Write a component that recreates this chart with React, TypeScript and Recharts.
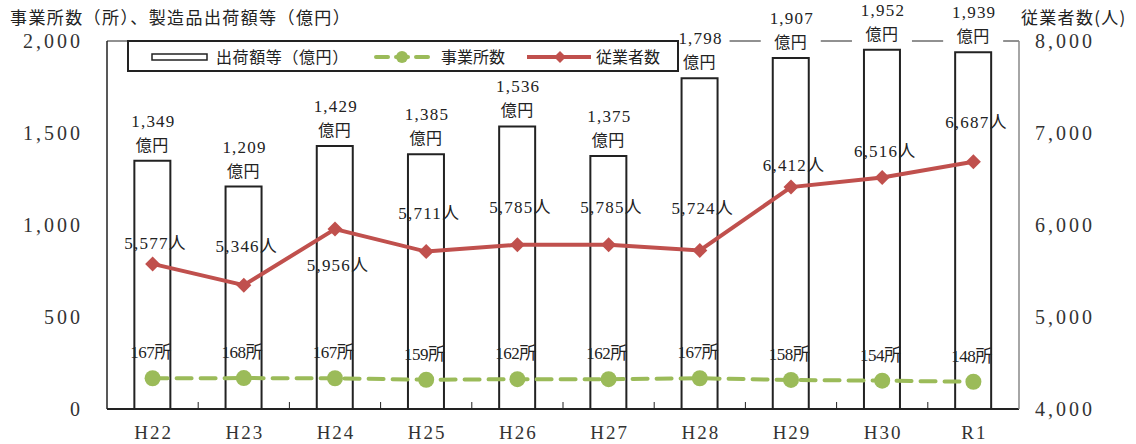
import React from 'react';
import { ComposedChart, Bar, Line, XAxis, YAxis, CartesianGrid, Legend, LabelList } from 'recharts';

const years = ['H22', 'H23', 'H24', 'H25', 'H26', 'H27', 'H28', 'H29', 'H30', 'R1'];
const shipments = [1349, 1209, 1429, 1385, 1536, 1375, 1798, 1907, 1952, 1939];
const employees = [5577, 5346, 5956, 5711, 5785, 5785, 5724, 6412, 6516, 6687];
const establishments = [167, 168, 167, 159, 162, 162, 167, 158, 154, 148];
const leftTicks = [0, 500, 1000, 1500, 2000];
const rightTicks = [4000, 5000, 6000, 7000, 8000];

// vertical shift of each employee label relative to its point
const empLabelShift = [-21, -39, 36, -39, -38, -38, -42, -22, -27, -40];

const data = years.map((year, i) => ({
  year,
  shipments: shipments[i],
  employees: employees[i],
  establishments: establishments[i],
}));

const RED = '#C0504D';
const GREEN = '#9BBB59';
const INK = '#222';
const SERIF = '"Liberation Serif", "DejaVu Serif", "Noto Sans CJK JP", serif';
const JP = '"Noto Sans CJK JP", sans-serif';

const fmt = (n: number) => n.toLocaleString('en-US');

function XTick(props: any) {
  const { x, y, payload, index } = props;
  const off = payload.offset || 0;
  return (
    <g>
      {index > 0 && <line x1={x - off} x2={x - off} y1={y} y2={y - 7} stroke={INK} strokeWidth={1} />}
      <text x={x + 1} y={y + 30} textAnchor="middle" fontFamily={SERIF} fontSize={19} fill="#333" letterSpacing={2}>
        {payload.value}
      </text>
    </g>
  );
}

function BarLabel(props: any) {
  const { x, y, width, value } = props;
  const cx = x + width / 2;
  return (
    <g>
      <rect x={cx - 30} y={y - 53} width={60} height={47} fill="#fff" />
      <text x={cx + 1} y={y - 34} textAnchor="middle" fontFamily={SERIF} fontSize={17} fill="#222" letterSpacing={1.2}>
        {fmt(value)}
      </text>
      <text x={cx} y={y - 10} textAnchor="middle" fontFamily={JP} fontSize={16} fill="#222" letterSpacing={0.5}>
        億円
      </text>
    </g>
  );
}

function EmpLabel(props: any) {
  const { x, y, value, index } = props;
  return (
    <text x={x + 3} y={y + empLabelShift[index] + 6} textAnchor="middle" fontFamily={SERIF} fontSize={17} fill="#222" letterSpacing={1.2}>
      {fmt(value) + '人'}
    </text>
  );
}

function EstLabel(props: any) {
  const { x, y, value } = props;
  return (
    <text x={x - 2} y={y - 20} textAnchor="middle" fontFamily={SERIF} fontSize={17} fill="#222" letterSpacing={-0.5}>
      {value + '所'}
    </text>
  );
}

function Diamond(props: any) {
  const { cx, cy } = props;
  if (cx == null || cy == null) return null;
  const s = 7.5;
  return <path d={`M${cx},${cy - s}L${cx + s},${cy}L${cx},${cy + s}L${cx - s},${cy}Z`} fill={RED} />;
}

function LegendBox() {
  return (
    <svg width={552} height={32} style={{ display: 'block' }}>
      <rect x={1} y={1} width={550} height={30} fill="#fff" stroke={INK} strokeWidth={2} />
      <rect x={25} y={14} width={55} height={6} fill="#fff" stroke={INK} strokeWidth={1.5} />
      <text x={89} y={23} fontFamily={JP} fontSize={16} fill="#222" letterSpacing={0.6}>出荷額等（億円）</text>
      <line x1={249} x2={305} y1={17} y2={17} stroke={GREEN} strokeWidth={4} strokeDasharray="12 8" strokeLinecap="round" />
      <circle cx={275} cy={17} r={6} fill={GREEN} />
      <text x={314} y={23} fontFamily={JP} fontSize={16} fill="#222">事業所数</text>
      <line x1={400} x2={464} y1={17} y2={17} stroke={RED} strokeWidth={4} />
      <path d="M433,11L439,17L433,23L427,17Z" fill={RED} />
      <text x={469} y={23} fontFamily={JP} fontSize={16} fill="#222">従業者数</text>
    </svg>
  );
}

export default function App() {
  return (
    <div style={{ position: 'absolute', left: 0, top: 0, width: 1136, height: 444, background: '#fff' }}>
      <div style={{ position: 'absolute', left: 10, top: 4, fontFamily: JP, fontSize: 17, color: '#222', whiteSpace: 'nowrap', letterSpacing: 1.4 }}>
        事業所数（所）、製造品出荷額等（億円）
      </div>
      <div style={{ position: 'absolute', left: 1021, top: 4, fontFamily: JP, fontSize: 17, color: '#222', whiteSpace: 'nowrap', letterSpacing: 1.3 }}>
        従業者数(人)
      </div>
      <ComposedChart
        width={1136}
        height={444}
        data={data}
        margin={{ top: 41, right: 0, bottom: 0, left: 0 }}
        barCategoryGap="30%"
      >
        <CartesianGrid vertical={false} stroke="#222" strokeWidth={1} />
        <XAxis
          dataKey="year"
          height={35}
          tickSize={0}
          tickMargin={0}
          tick={<XTick />}
          axisLine={{ stroke: INK, strokeWidth: 2 }}
          tickLine={false}
          interval={0}
        />
        <YAxis
          yAxisId="left"
          width={107}
          domain={[0, 2000]}
          ticks={leftTicks}
          tickFormatter={fmt}
          tick={{ fontFamily: SERIF, fontSize: 20, fill: '#333', letterSpacing: 3 }}
          tickMargin={18}
          tickLine={false}
          axisLine={{ stroke: INK, strokeWidth: 1.5 }}
          interval={0}
        />
        <YAxis
          yAxisId="right"
          orientation="right"
          width={117}
          domain={[4000, 8000]}
          ticks={rightTicks}
          tickFormatter={fmt}
          tick={{ fontFamily: SERIF, fontSize: 20, fill: '#333', letterSpacing: 3 }}
          tickMargin={10}
          tickLine={false}
          axisLine={{ stroke: '#888', strokeWidth: 1.5 }}
          interval={0}
        />
        <Legend
          layout="horizontal"
          verticalAlign="middle"
          align="center"
          content={<LegendBox />}
          wrapperStyle={{ position: 'absolute', left: 127, top: 40, width: 552, height: 32 }}
        />
        <Bar yAxisId="left" dataKey="shipments" fill="#fff" stroke={INK} strokeWidth={2} isAnimationActive={false}>
          <LabelList dataKey="shipments" content={<BarLabel />} />
        </Bar>
        <Line
          yAxisId="left"
          dataKey="establishments"
          stroke={GREEN}
          strokeWidth={4}
          strokeDasharray="15 9"
          strokeLinecap="round"
          dot={{ r: 8, fill: GREEN, stroke: 'none' }}
          activeDot={false}
          isAnimationActive={false}
        >
          <LabelList dataKey="establishments" content={<EstLabel />} />
        </Line>
        <Line
          yAxisId="right"
          dataKey="employees"
          stroke={RED}
          strokeWidth={4}
          dot={<Diamond />}
          activeDot={false}
          isAnimationActive={false}
        >
          <LabelList dataKey="employees" content={<EmpLabel />} />
        </Line>
      </ComposedChart>
    </div>
  );
}
